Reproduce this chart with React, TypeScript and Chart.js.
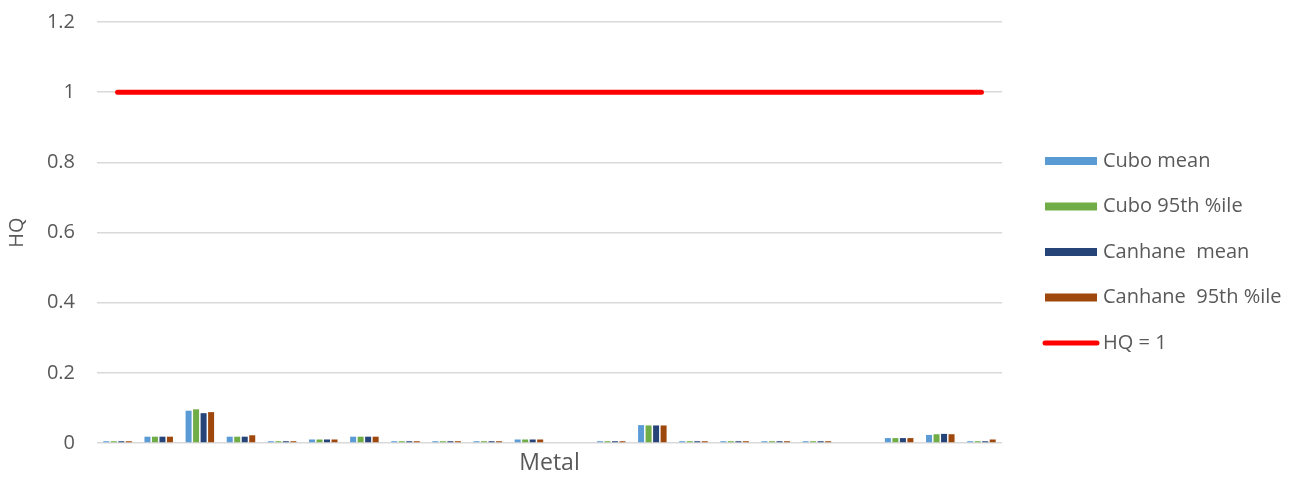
import React, { useEffect, useRef } from "react";
import { Chart, registerables } from "chart.js";

Chart.register(...registerables);

const categories: string[] = Array.from({ length: 22 }, (_, i) => `M${i + 1}`);

const cuboMean = [0.005, 0.018, 0.092, 0.018, 0.005, 0.01, 0.018, 0.005, 0.005, 0.005, 0.01, 0, 0.005, 0.051, 0.005, 0.005, 0.005, 0.005, 0, 0.014, 0.023, 0.005];
const cubo95 = [0.005, 0.018, 0.096, 0.018, 0.005, 0.01, 0.018, 0.005, 0.005, 0.005, 0.01, 0, 0.005, 0.05, 0.005, 0.005, 0.005, 0.005, 0, 0.014, 0.025, 0.005];
const canhaneMean = [0.005, 0.018, 0.085, 0.018, 0.005, 0.01, 0.018, 0.005, 0.005, 0.005, 0.01, 0, 0.005, 0.05, 0.005, 0.005, 0.005, 0.005, 0, 0.014, 0.026, 0.005];
const canhane95 = [0.005, 0.018, 0.088, 0.022, 0.005, 0.01, 0.018, 0.005, 0.005, 0.005, 0.01, 0, 0.005, 0.05, 0.005, 0.005, 0.005, 0.005, 0, 0.014, 0.025, 0.01];
const hqLine = categories.map(() => 1);

const seriesLabels = ["Cubo mean", "Cubo 95th %ile", "Canhane  mean", "Canhane  95th %ile", "HQ = 1"];
const seriesColors = ["#5B9BD5", "#70AD47", "#264478", "#9E480E", "#FF0000"];

const yTicks = { min: 0, max: 1.2, step: 0.2 };

const FONT = "'Open Sans', 'DejaVu Sans', sans-serif";
const TEXT = "#595959";

const legendPlugin = {
  id: "customLegend",
  afterDraw(chart: any) {
    const ctx = chart.ctx;
    ctx.save();
    const x0 = 1045;
    const y0 = 161;
    const step = 45.5;
    chart.data.datasets.forEach((ds: any, i: number) => {
      const y = y0 + i * step;
      if (ds.type === "line") {
        ctx.strokeStyle = ds.borderColor;
        ctx.lineWidth = 5;
        ctx.lineCap = "round";
        ctx.beginPath();
        ctx.moveTo(x0, y);
        ctx.lineTo(x0 + 52, y);
        ctx.stroke();
      } else {
        ctx.fillStyle = ds.backgroundColor;
        ctx.fillRect(x0, y - 4, 52, 8);
      }
      ctx.fillStyle = TEXT;
      ctx.font = `20px ${FONT}`;
      ctx.textBaseline = "middle";
      ctx.textAlign = "left";
      ctx.fillText(ds.label, x0 + 58, y);
    });
    ctx.restore();
  },
};

export default function App() {
  const canvasRef = useRef<HTMLCanvasElement | null>(null);

  useEffect(() => {
    document.body.style.margin = "0";
    const canvas = canvasRef.current;
    if (!canvas) return;
    const barSeries = [cuboMean, cubo95, canhaneMean, canhane95];
    const chart = new Chart(canvas, {
      type: "bar",
      data: {
        labels: categories,
        datasets: [
          ...barSeries.map((d, i) => ({
            type: "bar" as const,
            label: seriesLabels[i],
            data: d,
            backgroundColor: seriesColors[i],
            borderWidth: 0,
            categoryPercentage: 0.73,
            barPercentage: 0.8,
            order: 2,
          })),
          {
            type: "line" as const,
            label: seriesLabels[4],
            data: hqLine,
            borderColor: seriesColors[4],
            backgroundColor: seriesColors[4],
            borderWidth: 5,
            borderCapStyle: "round",
            pointRadius: 0,
            order: 1,
          } as any,
        ],
      },
      options: {
        responsive: false,
        animation: false,
        layout: { padding: { top: 22, right: 304, left: 0, bottom: 0 } },
        plugins: {
          legend: { display: false },
          tooltip: { enabled: false },
        },
        scales: {
          x: {
            grid: { display: false },
            border: { display: false },
            ticks: { display: false },
            title: {
              display: true,
              text: "Metal",
              color: TEXT,
              font: { family: FONT, size: 23 },
              padding: { top: 0, bottom: 0 },
            },
            afterFit: (s: any) => {
              s.height = 34;
            },
          },
          y: {
            min: yTicks.min,
            max: yTicks.max,
            ticks: {
              stepSize: yTicks.step,
              color: TEXT,
              font: { family: FONT, size: 20 },
              padding: 22,
              callback: (v: any) => String(Math.round(Number(v) * 10) / 10),
            },
            grid: { color: "#D9D9D9", lineWidth: 1.5, drawTicks: false },
            border: { display: false },
            title: {
              display: true,
              text: "HQ",
              color: TEXT,
              font: { family: FONT, size: 20 },
              padding: { top: 5, bottom: 0 },
            },
            afterFit: (s: any) => {
              s.width = 97;
              s.paddingTop = 10;
              s.paddingBottom = 10;
            },
          },
        },
      },
      plugins: [legendPlugin],
    });
    return () => chart.destroy();
  }, []);

  return (
    <div style={{ width: 1306, height: 477, background: "#fff" }}>
      <canvas ref={canvasRef} width={1306} height={477} style={{ display: "block" }} />
    </div>
  );
}
